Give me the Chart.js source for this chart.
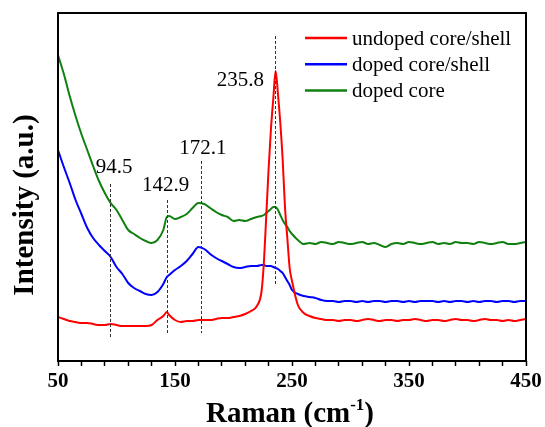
<!DOCTYPE html>
<html>
<head>
<meta charset="utf-8">
<script src="https://cdn.jsdelivr.net/npm/chart.js@4.4.0/dist/chart.umd.min.js"></script>
<style>
html, body { margin: 0; padding: 0; background: #fff; }
</style>
</head>
<body>
<canvas id="raman" width="545" height="427"></canvas>
<script>

// Raman shift (cm-1), shared by all three spectra
var ramanShift = [
    50, 55, 60, 65, 70, 75, 80, 85, 90, 95,
    100, 105, 110, 115, 120, 125, 130, 135, 140, 143,
    145, 150, 155, 160, 165, 170, 175, 180, 185, 190,
    195, 200, 205, 210, 215, 220, 224, 226, 228, 230,
    232, 234, 236, 238, 240, 242, 244, 246, 248, 250,
    255, 260, 265, 270, 275, 280, 285, 290, 295, 300,
    305, 310, 315, 320, 325, 330, 335, 340, 345, 350,
    355, 360, 365, 370, 375, 380, 385, 390, 395, 400,
    405, 410, 415, 420, 425, 430, 435, 440, 445, 450
];

// Intensities (a.u., stacked as in the figure)
var undopedCoreShell = [
    44, 42, 40, 39, 38, 38, 37, 36, 36, 37,
    36, 35, 35, 35, 35, 35, 36, 41, 45, 49,
    46, 41, 39, 40, 40, 41, 41, 41, 42, 43,
    43, 44, 45, 47, 50, 55, 70, 99, 145, 192,
    232, 262, 290, 267, 238, 202, 154, 123, 93, 80,
    56, 48, 45, 43, 42, 41, 41, 40, 41, 41,
    40, 41, 42, 41, 40, 41, 41, 40, 41, 41,
    42, 41, 40, 41, 41, 40, 41, 42, 41, 41,
    40, 41, 42, 41, 41, 40, 41, 40, 41, 42
];

var dopedCoreShell = [
    211, 194, 178, 161, 147, 133, 123, 116, 110, 104,
    94, 87, 78, 73, 70, 67, 66, 69, 77, 84,
    86, 91, 95, 100, 107, 114, 112, 107, 103, 100,
    97, 94, 93, 94, 95, 95, 96, 96, 95, 95,
    95, 94, 93, 92, 90, 88, 84, 80, 76, 71,
    67, 65, 64, 63, 61, 60, 60, 59, 60, 60,
    59, 60, 59, 60, 60, 59, 60, 60, 59, 60,
    59, 60, 60, 60, 59, 60, 59, 60, 60, 59,
    60, 59, 60, 60, 59, 60, 60, 59, 60, 60
];

var dopedCore = [
    306, 287, 265, 245, 227, 211, 195, 180, 168, 158,
    151, 141, 131, 127, 123, 120, 118, 121, 131, 144,
    145, 142, 144, 147, 153, 158, 157, 153, 149, 146,
    144, 140, 141, 140, 142, 144, 145, 146, 148, 150,
    152, 154, 154, 151, 146, 141, 137, 134, 130, 127,
    121, 117, 118, 117, 119, 118, 117, 119, 118, 117,
    118, 119, 117, 118, 116, 114, 117, 118, 117, 119,
    118, 117, 118, 119, 117, 118, 117, 119, 118, 118,
    117, 119, 118, 117, 118, 119, 117, 117, 118, 119
];

var seriesNames = ['undoped core/shell', 'doped core/shell', 'doped core'];
var peakShifts = [94.5, 142.9, 172.1, 235.8];

var tickMarks = [50, 70, 90, 110, 130, 150, 170, 190, 210, 230, 250,
                 270, 290, 310, 330, 350, 370, 390, 410, 430, 450];
var tickLabels = [50, 150, 250, 350, 450];

var serif = "'Liberation Serif', 'Times New Roman', serif";
Chart.defaults.font.family = serif;
Chart.defaults.color = '#000';

function toPoints(ys) {
    return ys.map(function(y, i) { return {x: ramanShift[i], y: y}; });
}

// guides, peak labels, legend, frame and axis titles
var ramanDecor = {
    id: 'ramanDecor',
    afterDatasetsDraw: function(chart) {
        var ctx = chart.ctx, a = chart.chartArea;
        var xs = chart.scales.x, ys = chart.scales.y;
        // guide extents (y units) and label offsets, per peak
        var guides = [
            {from: 22, to: 177, dx: 4, ly: 194},
            {from: 28, to: 161, dx: -1, ly: 176},
            {from: 28, to: 200, dx: 2, ly: 213},
            {from: 77, to: 325, dx: -35, ly: 281}
        ];
        ctx.save();
        ctx.strokeStyle = '#333';
        ctx.lineWidth = 1;
        ctx.setLineDash([3, 2]);
        peakShifts.forEach(function(p, i) {
            var g = guides[i];
            var x = Math.round(xs.getPixelForValue(p)) + 0.5;
            ctx.beginPath();
            ctx.moveTo(x, ys.getPixelForValue(g.to));
            ctx.lineTo(x, ys.getPixelForValue(g.from));
            ctx.stroke();
        });
        ctx.setLineDash([]);

        ctx.fillStyle = '#000';
        ctx.font = '21px ' + serif;
        ctx.textAlign = 'center';
        ctx.textBaseline = 'middle';
        peakShifts.forEach(function(p, i) {
            var g = guides[i];
            ctx.fillText(p.toFixed(1), xs.getPixelForValue(p) + g.dx, ys.getPixelForValue(g.ly));
        });

        // legend
        ctx.textAlign = 'left';
        chart.data.datasets.forEach(function(ds, i) {
            var y = 38 + i * 26.2;
            ctx.strokeStyle = ds.borderColor;
            ctx.lineWidth = 2.5;
            ctx.beginPath();
            ctx.moveTo(305, y);
            ctx.lineTo(347, y);
            ctx.stroke();
            ctx.fillText(ds.label, 352, y + 1);
        });

        // frame
        ctx.strokeStyle = '#000';
        ctx.lineWidth = 2;
        ctx.strokeRect(a.left, a.top, a.right - a.left, a.bottom - a.top);

        // x title with superscript
        ctx.textBaseline = 'alphabetic';
        var big = 'bold 29px ' + serif, small = 'bold 17px ' + serif;
        ctx.font = big;
        var w1 = ctx.measureText('Raman (cm').width, w3 = ctx.measureText(')').width;
        ctx.font = small;
        var w2 = ctx.measureText('-1').width;
        var x0 = 290 - (w1 + w2 + w3) / 2, base = 422;
        ctx.font = big;
        ctx.fillText('Raman (cm', x0, base);
        ctx.font = small;
        ctx.fillText('-1', x0 + w1, base - 12);
        ctx.font = big;
        ctx.fillText(')', x0 + w1 + w2, base);

        // y title
        ctx.translate(33, 205);
        ctx.rotate(-Math.PI / 2);
        ctx.textAlign = 'center';
        ctx.fillText('Intensity (a.u.)', 0, 0);
        ctx.restore();
    }
};

var raman = new Chart(document.getElementById('raman'), {
    type: 'line',
    data: {
        datasets: [{
            label: seriesNames[0],
            data: toPoints(undopedCoreShell),
            borderColor: '#ff0000'
        }, {
            label: seriesNames[1],
            data: toPoints(dopedCoreShell),
            borderColor: '#0000ff'
        }, {
            label: seriesNames[2],
            data: toPoints(dopedCore),
            borderColor: '#108010'
        }]
    },
    options: {
        responsive: false,
        animation: false,
        layout: { padding: { left: 58, right: 19, top: 13, bottom: 0 } },
        elements: {
            point: { radius: 0 },
            line: { borderWidth: 2, cubicInterpolationMode: 'monotone', fill: false }
        },
        plugins: {
            legend: { display: false },
            tooltip: { enabled: false }
        },
        scales: {
            x: {
                type: 'linear',
                min: 50,
                max: 450,
                border: { display: false },
                grid: {
                    drawOnChartArea: false,
                    drawTicks: true,
                    tickLength: 5,
                    tickColor: '#000',
                    tickWidth: 1.5
                },
                ticks: {
                    autoSkip: false,
                    maxRotation: 0,
                    padding: 3,
                    font: { size: 21, weight: 'bold' },
                    callback: function(v) { return tickLabels.indexOf(v) >= 0 ? v : ''; }
                },
                afterBuildTicks: function(s) {
                    s.ticks = tickMarks.map(function(v) { return {value: v}; });
                },
                afterFit: function(s) { s.height = 66; }
            },
            y: {
                display: false,
                min: 0,
                max: 348
            }
        }
    },
    plugins: [ramanDecor]
});
</script>
</body>
</html>
